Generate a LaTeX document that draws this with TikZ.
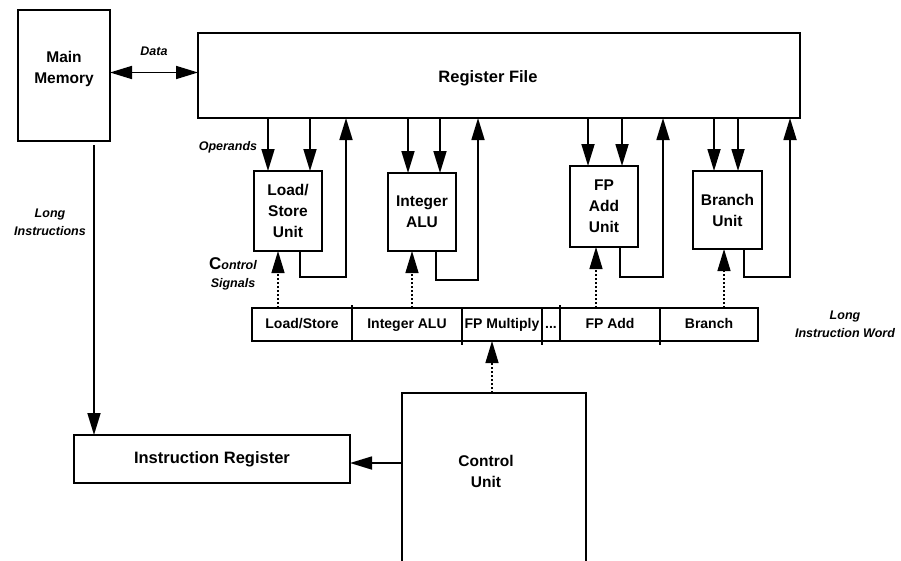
\documentclass[tikz,border=0pt]{standalone}
\usepackage{fontspec}
\setmainfont{Liberation Sans}
\usetikzlibrary{arrows.meta,positioning}

\begin{document}
\begin{tikzpicture}[>={Triangle[length=22pt,width=13pt]},x=1pt,y=-1pt,line width=1.7pt,
		box/.style={draw,rectangle,inner sep=0pt,outer sep=0pt},
		txt/.style={font=\fontsize{15.5}{21}\selectfont\bfseries,align=center,inner sep=0pt},
		big/.style={font=\fontsize{16.5}{21}\selectfont\bfseries,align=center,inner sep=0pt},
		ital/.style={font=\fontsize{12.5}{18}\selectfont\bfseries\itshape,align=center,inner sep=0pt},
		field/.style={box,minimum height=33,inner sep=1pt,text height=10pt,text depth=3pt,font=\fontsize{14}{17}\selectfont\bfseries},
		ctrl/.style={->,line width=1.3pt,dash pattern=on 2.5pt off 1.5pt}]
		\useasboundingbox (0,0) rectangle (901,560);
		% memory and register file
		\node[box,minimum width=92,minimum height=131] (mem) at (64,75.5) {};
		\node[txt] (memtxt) at (64,69) {Main\\Memory};
		\node[box,minimum width=602,minimum height=85] (rf) at (499,75.5) {};
		\node[big] (rftxt) at (488,78) {Register File};
		% functional units
		\node[box,txt,minimum width=68,minimum height=80] (ls) at (288,211) {Load/\\Store\\Unit};
		\node[box,txt,minimum width=68,minimum height=78] (ia) at (422,212) {Integer\\ALU};
		\node[box,txt,minimum width=68,minimum height=81] (fa) at (604,206.5) {FP\\Add\\Unit};
		\node[box,txt,minimum width=69,minimum height=78] (bu) at (727.5,210) {Branch\\Unit};
		% long instruction word
		\node[field,minimum width=100] (f1) at (302,324.5) {Load/Store};
		\node[field,minimum width=110,right=0pt of f1] (f2) {Integer ALU};
		\node[field,minimum width=80,right=0pt of f2] (f3) {FP Multiply};
		\node[field,minimum width=18,right=0pt of f3] (f4) {...};
		\node[field,minimum width=100,right=0pt of f4] (f5) {FP Add};
		\node[field,minimum width=98,right=0pt of f5] (f6) {Branch};
		\draw (f1.north east) -- ++(0,-3) (f4.north east) -- ++(0,-3);
		\draw (f2.south east) -- ++(0,4) (f3.south east) -- ++(0,4) (f5.south east) -- ++(0,4);
		% control
		\node[box,minimum width=184,minimum height=172] (cu) at (494,479) {};
		\node[txt] (cutxt) at (486,471) {Control\\Unit};
		\node[box,big,minimum width=276,minimum height=48] (ir) at (212,459) {Instruction Register};
		% labels
		\node[ital] (data) at (154,51) {Data};
		\node[ital,anchor=east] (ops) at (258,147) {Operands};
		\node[ital] (sig) at (233,274) {{\fontsize{17}{18}\selectfont\upshape C}ontrol\\Signals};
		\node[ital] (longi) at (50,222) {Long\\Instructions};
		\node[ital] (liw) at (845,324) {Long\\Instruction Word};
		% connectors
		\draw[<->] ([yshift=3pt]mem.east) -- ([yshift=3pt]mem.east -| rf.west);
		\foreach \u/\a/\b/\c/\d/\rx/\ry in {ls/-20/22/12/-10/346/277, ia/-14/18/14/-10/478/280, fa/-16/18/16/-8/663/277, bu/-13.5/10.5/16.5/-3.5/790/277}{
			\coordinate (\u-a) at ([xshift=\a pt]\u.north);
			\coordinate (\u-b) at ([xshift=\b pt]\u.north);
			\coordinate (\u-c) at ([xshift=\c pt]\u.south);
			\coordinate (\u-d) at ([xshift=\d pt]\u.south);
			\coordinate (\u-r) at (\rx,\ry);
			\draw[->] (\u-a |- rf.south) -- (\u-a);
			\draw[->] (\u-b |- rf.south) -- (\u-b);
			\draw[->] (\u-c) |- (\u-r) -- (\u-r |- rf.south);
			\draw[ctrl] (\u-d |- f1.north) -- (\u-d);
		}
		\coordinate (cuup) at ([xshift=-2pt]cu.north);
		\draw[ctrl] (cuup) -- (cuup |- f3.south);
		\coordinate (memout) at ([xshift=30pt,yshift=-4pt]mem.south);
		\draw[->] (memout) -- (memout |- ir.north);
		\coordinate (irin) at ([yshift=-4pt]ir.east);
		\draw[->] (irin -| cu.west) -- (irin);
\end{tikzpicture}
\end{document}
